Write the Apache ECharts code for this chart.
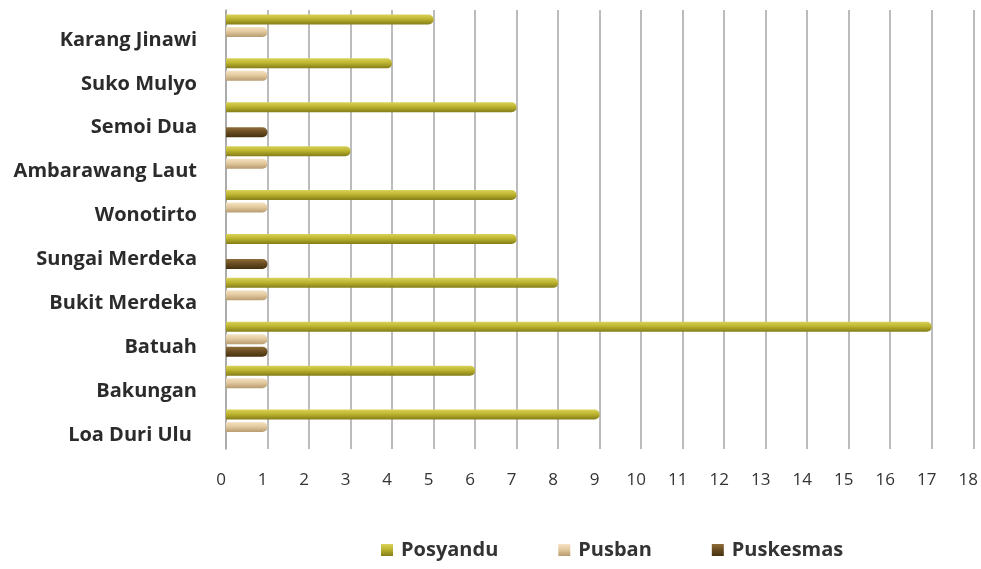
<!DOCTYPE html>
<html>
<head>
<meta charset="utf-8">
<script src="https://cdn.jsdelivr.net/npm/echarts@6/dist/echarts.min.js"></script>
<style>
  html, body { margin: 0; padding: 0; background: #fff; }
  #chart { width: 981px; height: 569px; }
</style>
</head>
<body>
<div id="chart"></div>
<script>
// bottom to top, as the category axis draws them
const villages = ['Loa Duri Ulu ', 'Bakungan', 'Batuah', 'Bukit Merdeka', 'Sungai Merdeka',
    'Wonotirto', 'Ambarawang Laut', 'Semoi Dua', 'Suko Mulyo', 'Karang Jinawi'];
const posyandu = [9, 6, 17, 8, 7, 7, 3, 7, 4, 5];
const pusban = [1, 1, 1, 1, 0, 1, 1, 0, 1, 1];
const puskesmas = [0, 0, 1, 0, 1, 0, 0, 1, 0, 0];
const xTicks = [0, 18, 1];  // min, max, step

function tube(top, mid, bottom) {
    return new echarts.graphic.LinearGradient(0, 0, 0, 1, [
        { offset: 0, color: top },
        { offset: 0.45, color: mid },
        { offset: 1, color: bottom }
    ]);
}

const chart = echarts.init(document.getElementById('chart'));

const barStyle = (top, mid, bottom) => ({
    color: tube(top, mid, bottom),
    borderRadius: [0, 5, 5, 0]
});

chart.setOption({
    animation: false,
    grid: { left: 226, right: 3, top: 10, bottom: 120 },
    legend: {
        bottom: 4,
        left: 376,
        itemWidth: 12,
        itemHeight: 12,
        itemGap: 60,
        icon: 'rect',
        textStyle: {
            fontFamily: 'Open Sans', fontWeight: 'bold', fontSize: 20, color: '#333',
            padding: [0, 0, 0, 3]
        },
        data: ['Posyandu', 'Pusban', 'Puskesmas']
    },
    xAxis: {
        type: 'value',
        min: xTicks[0],
        max: xTicks[1],
        interval: xTicks[2],
        axisLine: { show: false },
        axisTick: { show: false },
        splitLine: { lineStyle: { color: '#a6a6a6', width: 1.5 } },
        axisLabel: {
            margin: 23,
            padding: [0, 10, 0, 0],
            fontFamily: 'Open Sans',
            fontSize: 17,
            color: '#333'
        }
    },
    yAxis: {
        type: 'category',
        data: villages,
        axisLine: { lineStyle: { color: '#a6a6a6', width: 1.5 } },
        axisTick: { show: false },
        axisLabel: {
            margin: 29,
            verticalAlign: 'top',
            lineHeight: 16,
            fontFamily: 'Open Sans',
            fontWeight: 'bold',
            fontSize: 20,
            color: '#2b2b2b'
        }
    },
    series: [
        {
            name: 'Posyandu', type: 'bar', data: posyandu,
            barWidth: 10, barGap: '25%',
            itemStyle: barStyle('#d9d25a', '#bdb42f', '#837d18')
        },
        {
            name: 'Pusban', type: 'bar', data: pusban,
            barWidth: 10,
            itemStyle: barStyle('#f4e3c4', '#e3c99e', '#b79c70')
        },
        {
            name: 'Puskesmas', type: 'bar', data: puskesmas,
            barWidth: 10,
            itemStyle: barStyle('#8f6d38', '#6b4e23', '#45310f')
        }
    ]
});
</script>
</body>
</html>
